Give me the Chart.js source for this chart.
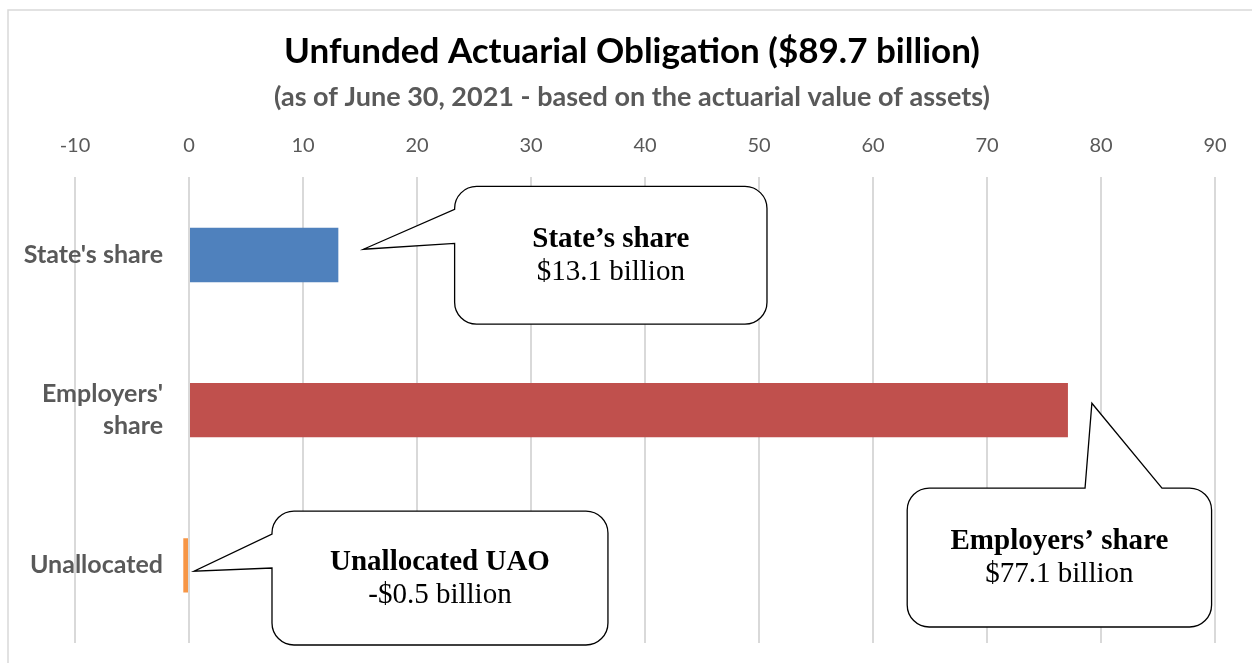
<!DOCTYPE html>
<html>
<head>
<meta charset="utf-8">
<script src="https://cdn.jsdelivr.net/npm/chart.js@4.4.1/dist/chart.umd.min.js"></script>
<style>
  html, body { margin: 0; padding: 0; background: #fff; }
  #wrap { position: relative; width: 1252px; height: 663px; }
</style>
</head>
<body>
<div id="wrap"><canvas id="uao-chart"></canvas></div>
<script>
// data (billions of dollars)
const categories = [["State's share"], ["Employers'", "share"], ["Unallocated"]];
const values = [13.1, 77.1, -0.5];
const barColors = ['#4F81BD', '#C0504D', '#F79646'];
const tickMin = -10;
const tickMax = 90;
const tickStep = 10;
const calloutTitles = ['State’s share', 'Employers’ share', 'Unallocated UAO'];

// callout boxes, in axis units (x = value, y = category index)
const callouts = [
  { x0: 23.3, x1: 50.7, y0: -0.442, y1: 0.446, side: 'left', b0: -0.294, b1: -0.075, tip: [15.3, -0.037] },
  { x0: 63.0, x1: 89.7, y0: 1.502, y1: 2.397, side: 'top', b0: 78.6, b1: 85.35, tip: [79.2, 0.955] },
  { x0: 7.28, x1: 36.75, y0: 1.65, y1: 2.513, side: 'left', b0: 1.798, b1: 2.017, tip: [0.44, 2.037] }
];

function money(v) {
  return (v < 0 ? '-' : '') + '$' + Math.abs(v).toFixed(1) + ' billion';
}

function calloutPath(ctx, L, T, R, B, r, side, p0, p1, tip) {
  ctx.beginPath();
  ctx.moveTo(L + r, T);
  if (side === 'top') {
    ctx.lineTo(p0, T);
    ctx.lineTo(tip[0], tip[1]);
    ctx.lineTo(p1, T);
  }
  ctx.lineTo(R - r, T);
  ctx.arcTo(R, T, R, T + r, r);
  ctx.lineTo(R, B - r);
  ctx.arcTo(R, B, R - r, B, r);
  ctx.lineTo(L + r, B);
  ctx.arcTo(L, B, L, B - r, r);
  if (side === 'left') {
    ctx.lineTo(L, p1);
    ctx.lineTo(tip[0], tip[1]);
    ctx.lineTo(L, p0);
  }
  ctx.lineTo(L, T + r);
  ctx.arcTo(L, T, L + r, T, r);
  ctx.closePath();
}

const decorPlugin = {
  id: 'decor',
  beforeDraw(chart) {
    const ctx = chart.ctx;
    ctx.save();
    ctx.strokeStyle = '#d9d9d9';
    ctx.lineWidth = 1.5;
    ctx.strokeRect(8, 10, 1400, 800);
    ctx.restore();
  },
  afterDatasetsDraw(chart) {
    const ctx = chart.ctx;
    const xs = chart.scales.x;
    const ys = chart.scales.y;
    ctx.save();

    // category labels next to the zero line
    ctx.fillStyle = '#595959';
    ctx.font = 'bold 25px Lato';
    ctx.textAlign = 'right';
    ctx.textBaseline = 'middle';
    const labelX = xs.getPixelForValue(0) - 26;
    categories.forEach((lines, i) => {
      const cy = ys.getPixelForValue(i);
      const lh = 32;
      lines.forEach((t, j) => {
        ctx.fillText(t, labelX, cy + (j - (lines.length - 1) / 2) * lh);
      });
    });

    // speech bubbles
    callouts.forEach((c, i) => {
      const L = xs.getPixelForValue(c.x0), R = xs.getPixelForValue(c.x1);
      const T = ys.getPixelForValue(c.y0), B = ys.getPixelForValue(c.y1);
      const tip = [xs.getPixelForValue(c.tip[0]), ys.getPixelForValue(c.tip[1])];
      let p0, p1;
      if (c.side === 'left') {
        p0 = ys.getPixelForValue(c.b0);
        p1 = ys.getPixelForValue(c.b1);
      } else {
        p0 = xs.getPixelForValue(c.b0);
        p1 = xs.getPixelForValue(c.b1);
      }
      calloutPath(ctx, L, T, R, B, 22, c.side, p0, p1, tip);
      ctx.fillStyle = '#fff';
      ctx.fill();
      ctx.strokeStyle = '#000';
      ctx.lineWidth = 1.3;
      ctx.stroke();

      const cx = (L + R) / 2, cy = (T + B) / 2;
      ctx.fillStyle = '#000';
      ctx.textAlign = 'center';
      ctx.textBaseline = 'middle';
      ctx.font = 'bold 29px "Liberation Serif"';
      ctx.fillText(calloutTitles[i], cx, cy - 16);
      ctx.font = '29px "Liberation Serif"';
      ctx.fillText(money(values[i]), cx, cy + 17);
    });
    ctx.restore();
  }
};

new Chart(document.getElementById('uao-chart'), {
  type: 'bar',
  data: {
    labels: categories.map(l => l.join(' ')),
    datasets: [{
      label: 'UAO',
      data: values,
      backgroundColor: barColors,
      borderWidth: 0,
      barPercentage: 0.35,
      categoryPercentage: 1
    }]
  },
  options: {
    indexAxis: 'y',
    responsive: true,
    maintainAspectRatio: false,
    animation: false,
    layout: { padding: { left: 49, right: 37, top: 0, bottom: 20 } },
    plugins: {
      legend: { display: false },
      tooltip: { enabled: false },
      title: {
        display: true,
        text: 'Unfunded Actuarial Obligation ($89.7 billion)',
        color: '#000',
        font: { family: 'Lato', size: 35, weight: 'bold' },
        padding: { top: 31, bottom: 0 }
      },
      subtitle: {
        display: true,
        text: '(as of June 30, 2021 - based on the actuarial value of assets)',
        color: '#595959',
        font: { family: 'Lato', size: 27, weight: 'bold' },
        padding: { top: 8, bottom: 0 }
      }
    },
    scales: {
      x: {
        position: 'top',
        min: tickMin,
        max: tickMax,
        ticks: {
          stepSize: tickStep,
          color: '#595959',
          font: { family: 'Lato', size: 20 },
          padding: 20
        },
        grid: { color: '#d9d9d9', lineWidth: 2, drawTicks: false },
        border: { display: false }
      },
      y: {
        offset: true,
        ticks: { display: false },
        grid: { display: false },
        border: { display: false },
        afterFit: (scale) => { scale.width = 26; }
      }
    }
  },
  plugins: [decorPlugin]
});
</script>
</body>
</html>
